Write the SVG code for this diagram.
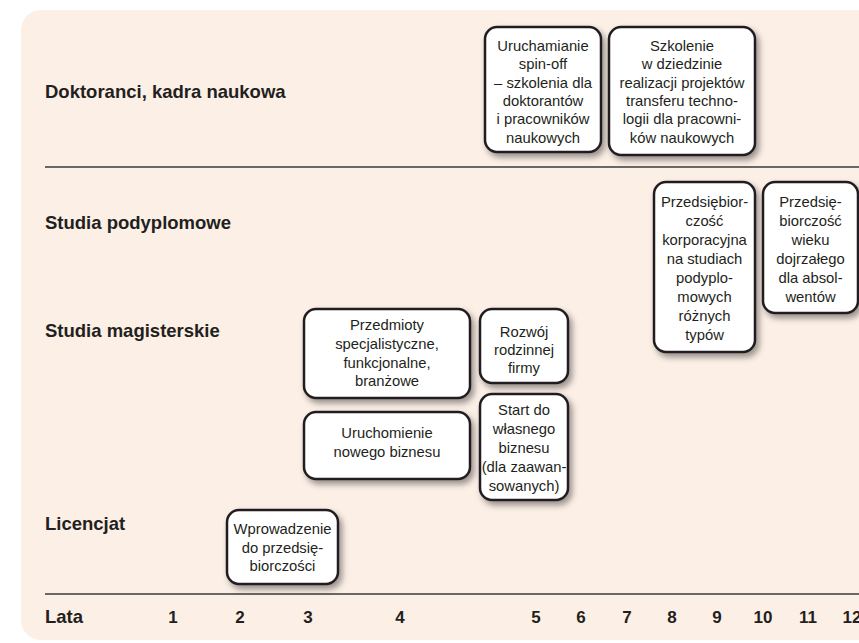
<svg xmlns="http://www.w3.org/2000/svg" width="859" height="643" viewBox="0 0 859 643">
<defs>
<filter id="sh" x="-20%" y="-20%" width="150%" height="150%">
<feDropShadow dx="3" dy="4" stdDeviation="3" flood-color="#000" flood-opacity="0.4"/>
</filter>
<style>
.bg{fill:#fcefe6}
.rule{stroke:#3a3a3a;stroke-width:1.4}
.box{fill:#fff;stroke:#231f20;stroke-width:2.5;filter:url(#sh)}
.t{font-family:"Liberation Sans",Arial,sans-serif;font-size:14.8px;fill:#231f20;text-anchor:middle}
.lab{font-family:"Liberation Sans",Arial,sans-serif;font-size:18.5px;font-weight:bold;fill:#231f20}
.yr{font-family:"Liberation Sans",Arial,sans-serif;font-size:17px;font-weight:bold;fill:#231f20;text-anchor:middle}
</style>
</defs>
<rect class="bg" x="21" y="10" width="880" height="630" rx="20"/>
<g id="rules">
<line class="rule" x1="45" y1="167" x2="859" y2="167"/>
<line class="rule" x1="45" y1="594" x2="859" y2="594"/>
</g>
<g id="labels">
<text class="lab" x="45" y="98">Doktoranci, kadra naukowa</text>
<text class="lab" x="45" y="229">Studia podyplomowe</text>
<text class="lab" x="45" y="337">Studia magisterskie</text>
<text class="lab" x="45" y="530">Licencjat</text>
<text class="lab" x="45" y="623">Lata</text>
</g>
<g id="years">
<text class="yr" x="173" y="623">1</text>
<text class="yr" x="240" y="623">2</text>
<text class="yr" x="308" y="623">3</text>
<text class="yr" x="400" y="623">4</text>
<text class="yr" x="536" y="623">5</text>
<text class="yr" x="581" y="623">6</text>
<text class="yr" x="627" y="623">7</text>
<text class="yr" x="672" y="623">8</text>
<text class="yr" x="717" y="623">9</text>
<text class="yr" x="763" y="623">10</text>
<text class="yr" x="808" y="623">11</text>
<text class="yr" x="852" y="623">12</text>
</g>
<g id="connectors"></g>
<g id="n-spinoff">
<rect class="box" x="485" y="27" width="116" height="125" rx="12"/>
<text class="t" x="543" y="51">Uruchamianie</text>
<text class="t" x="543" y="69.3">spin-off</text>
<text class="t" x="543" y="87.6">– szkolenia dla</text>
<text class="t" x="543" y="105.9">doktorantów</text>
<text class="t" x="543" y="124.2">i pracowników</text>
<text class="t" x="543" y="142.5">naukowych</text>
</g>
<g id="n-szkolenie">
<rect class="box" x="609" y="27" width="146" height="128" rx="12"/>
<text class="t" x="682" y="51">Szkolenie</text>
<text class="t" x="682" y="69.3">w dziedzinie</text>
<text class="t" x="682" y="87.6">realizacji projektów</text>
<text class="t" x="682" y="105.9">transferu techno-</text>
<text class="t" x="682" y="124.2">logii dla pracowni-</text>
<text class="t" x="682" y="142.5">ków naukowych</text>
</g>
<g id="n-korporacyjna">
<rect class="box" x="654" y="182" width="101" height="170" rx="12"/>
<text class="t" x="704.5" y="207">Przedsiębior-</text>
<text class="t" x="704.5" y="226">czość</text>
<text class="t" x="704.5" y="245">korporacyjna</text>
<text class="t" x="704.5" y="264">na studiach</text>
<text class="t" x="704.5" y="283">podyplo-</text>
<text class="t" x="704.5" y="302">mowych</text>
<text class="t" x="704.5" y="321">różnych</text>
<text class="t" x="704.5" y="340">typów</text>
</g>
<g id="n-dojrzaly">
<rect class="box" x="763" y="182" width="95" height="131" rx="12"/>
<text class="t" x="810.5" y="207">Przedsię-</text>
<text class="t" x="810.5" y="226">biorczość</text>
<text class="t" x="810.5" y="245">wieku</text>
<text class="t" x="810.5" y="264">dojrzałego</text>
<text class="t" x="810.5" y="283">dla absol-</text>
<text class="t" x="810.5" y="302">wentów</text>
</g>
<g id="n-przedmioty">
<rect class="box" x="304" y="309" width="166" height="89" rx="12"/>
<text class="t" x="387" y="330">Przedmioty</text>
<text class="t" x="387" y="349">specjalistyczne,</text>
<text class="t" x="387" y="367.5">funkcjonalne,</text>
<text class="t" x="387" y="386">branżowe</text>
</g>
<g id="n-rozwoj">
<rect class="box" x="480" y="309" width="88" height="74" rx="12"/>
<text class="t" x="524" y="337">Rozwój</text>
<text class="t" x="524" y="355">rodzinnej</text>
<text class="t" x="524" y="373">firmy</text>
</g>
<g id="n-nowy-biznes">
<rect class="box" x="304" y="412" width="166" height="67" rx="12"/>
<text class="t" x="387" y="438">Uruchomienie</text>
<text class="t" x="387" y="457">nowego biznesu</text>
</g>
<g id="n-start">
<rect class="box" x="480" y="394" width="88" height="106" rx="12"/>
<text class="t" x="524" y="415">Start do</text>
<text class="t" x="524" y="434">własnego</text>
<text class="t" x="524" y="453">biznesu</text>
<text class="t" x="524" y="472">(dla zaawan-</text>
<text class="t" x="524" y="491">sowanych)</text>
</g>
<g id="n-wprowadzenie">
<rect class="box" x="227" y="510" width="111" height="74" rx="12"/>
<text class="t" x="282.5" y="534">Wprowadzenie</text>
<text class="t" x="282.5" y="553">do przedsię-</text>
<text class="t" x="282.5" y="571">biorczości</text>
</g>
</svg>
